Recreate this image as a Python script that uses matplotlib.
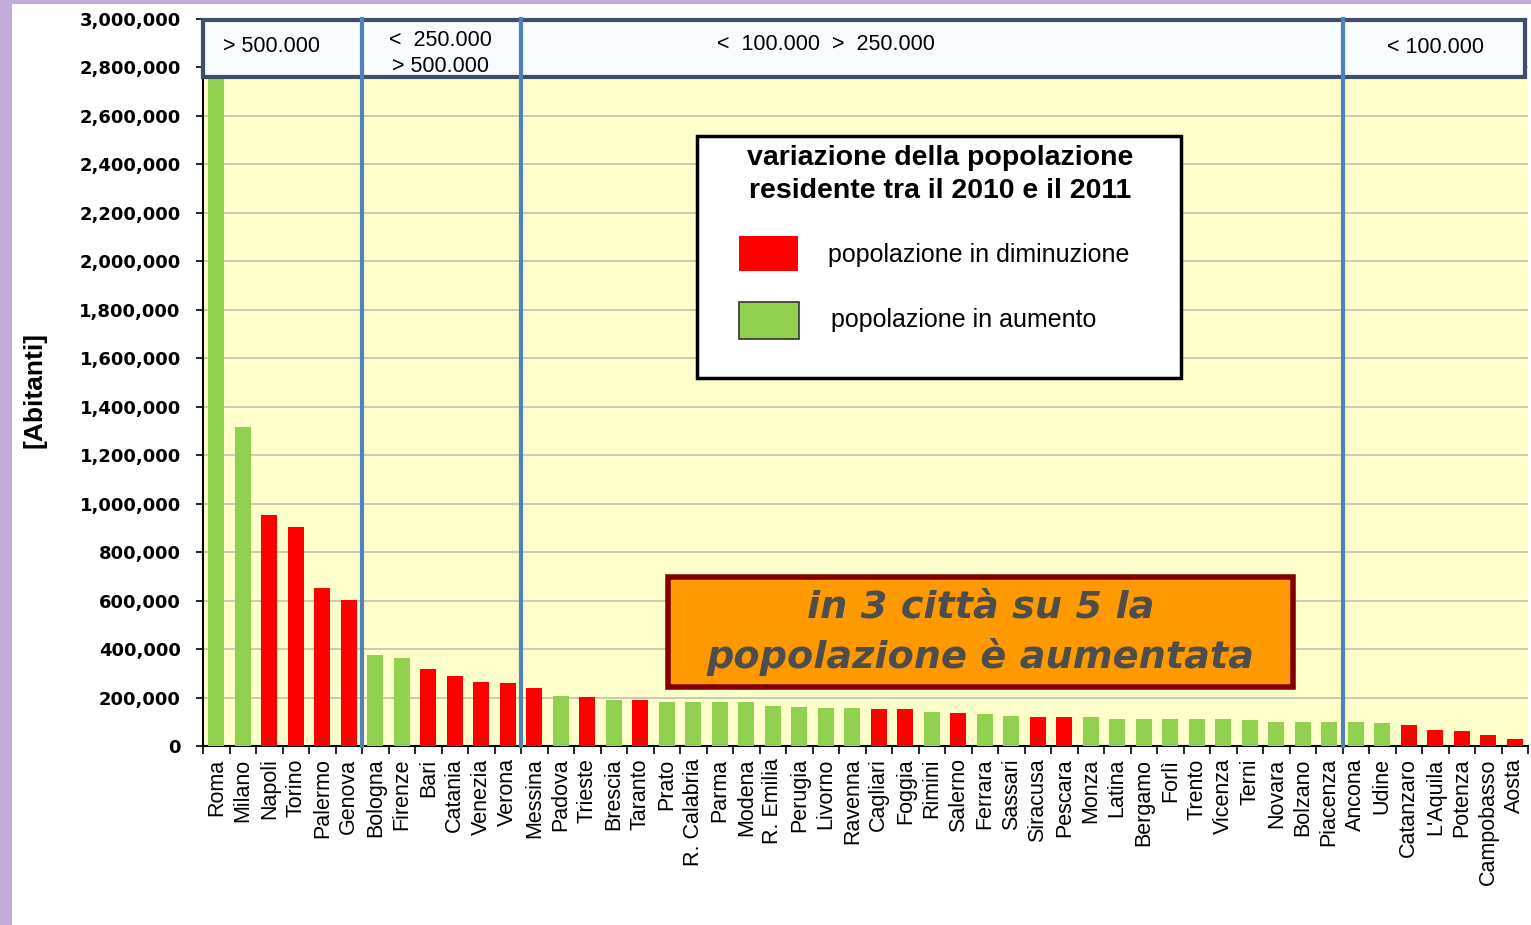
import numpy as np
import matplotlib
matplotlib.use('Agg')
import matplotlib.pyplot as plt
from matplotlib.patches import Rectangle
from matplotlib.ticker import FuncFormatter, MultipleLocator
import matplotlib.transforms as mtransforms

# residents per city (2011)
cities = ['Roma', 'Milano', 'Napoli', 'Torino', 'Palermo', 'Genova', 'Bologna', 'Firenze',
          'Bari', 'Catania', 'Venezia', 'Verona', 'Messina', 'Padova', 'Trieste', 'Brescia',
          'Taranto', 'Prato', 'R. Calabria', 'Parma', 'Modena', 'R. Emilia', 'Perugia',
          'Livorno', 'Ravenna', 'Cagliari', 'Foggia', 'Rimini', 'Salerno', 'Ferrara',
          'Sassari', 'Siracusa', 'Pescara', 'Monza', 'Latina', 'Bergamo', 'Forlì', 'Trento',
          'Vicenza', 'Terni', 'Novara', 'Bolzano', 'Piacenza', 'Ancona', 'Udine', 'Catanzaro',
          "L'Aquila", 'Potenza', 'Campobasso', 'Aosta']
abitanti = [2761000, 1315000, 955000, 905000, 654000, 602000, 374000, 364000,
            317000, 290000, 265000, 260000, 239000, 208000, 202000, 188000,
            188000, 182000, 182000, 182000, 182000, 167000, 162000,
            156000, 156000, 151000, 151000, 140000, 135000, 130000,
            124000, 119000, 119000, 119000, 113000, 113000, 113000, 113000,
            113000, 108000, 98000, 98000, 98000, 98000, 93000, 87000,
            66000, 61000, 46000, 30000]
# 1 = popolazione in aumento, 0 = in diminuzione
aumento = [1, 1, 0, 0, 0, 0, 1, 1, 0, 0, 0, 0, 0, 1, 0, 1, 0, 1, 1, 1, 1, 1, 1, 1, 1,
           0, 0, 1, 0, 1, 1, 0, 0, 1, 1, 1, 1, 1, 1, 1, 1, 1, 1, 1, 1, 0, 0, 0, 0, 0]

# class boundaries and labels of the top header
boundaries = [5.5, 11.5, 42.5]
header_labels = ['> 500.000', '<  250.000\n> 500.000', '<  100.000  >  250.000', '< 100.000']

GREEN = '#92d050'
RED = '#ff0000'
BLUE = '#4f81bd'

fig = plt.figure(figsize=(15.31, 9.25), dpi=100)
fig.patch.set_facecolor('white')
ax = fig.add_axes([203 / 1531, 1 - 746 / 925, 1325 / 1531, 727 / 925])
ax.set_facecolor('#ffffcc')

x = np.arange(len(cities))
colors = [GREEN if a else RED for a in aumento]
ax.bar(x, abitanti, width=0.6, color=colors, zorder=3)

ax.set_xlim(-0.5, len(cities) - 0.5)
ax.set_ylim(0, 3000000)
ax.yaxis.set_major_locator(MultipleLocator(200000))
ax.yaxis.set_major_formatter(FuncFormatter(lambda v, p: f'{int(v):,}'))
ax.grid(axis='y', color='#bcbcac', linewidth=1.1, zorder=1)
ax.set_axisbelow(True)
for lab in ax.get_yticklabels():
    lab.set_fontweight('bold')
    lab.set_fontsize(13)
    lab.set_family('DejaVu Sans')
ax.tick_params(axis='y', length=5, width=1.2, pad=11, direction='out')

# city labels centred under bars, tick marks between bars
ax.set_xticks(x)
ax.set_xticklabels(cities, rotation=90, fontsize=15.5, family='Liberation Sans')
ax.tick_params(axis='x', length=0, pad=9)
ax.set_xticks(np.arange(-0.5, len(cities)), minor=True)
ax.tick_params(axis='x', which='minor', length=6, width=1.2, direction='out')

for s in ['top', 'right']:
    ax.spines[s].set_visible(False)
ax.spines['left'].set_linewidth(1.5)
ax.spines['bottom'].set_linewidth(1.5)

# header box with population classes
trans = mtransforms.blended_transform_factory(ax.transData, ax.transAxes)
ax.add_patch(Rectangle((-0.5, 0.92), len(cities) - 0.1, 0.078, transform=trans,
                       facecolor='#f8fbff', edgecolor='#3d5068', linewidth=3,
                       zorder=5, clip_on=False))
for b in boundaries:
    ax.plot([b, b], [0, 1.0], transform=trans, color=BLUE, linewidth=3,
            zorder=6, clip_on=False)
header_x = [2.1, 8.45, 23.0, 46.0]
header_y = [0.9615, 0.952, 0.9645, 0.9605]
for xc, yc, lab in zip(header_x, header_y, header_labels):
    ax.text(xc, yc, lab, transform=trans, ha='center', va='center',
            fontsize=15.5, family='Liberation Sans', zorder=7, linespacing=1.3)

# legend box
ax.add_patch(Rectangle((0.3728, 0.5062), 0.3653, 0.3329, transform=ax.transAxes,
                       facecolor='white', edgecolor='black', linewidth=2.5, zorder=8))
ax.text(0.556, 0.786, 'variazione della popolazione\nresidente tra il 2010 e il 2011',
        transform=ax.transAxes, ha='center', va='center', fontsize=20.5,
        fontweight='bold', family='Liberation Sans', linespacing=1.38, zorder=9)
ax.add_patch(Rectangle((0.4045, 0.6534), 0.0445, 0.0481, transform=ax.transAxes,
                       facecolor=RED, edgecolor='none', zorder=9))
ax.add_patch(Rectangle((0.4045, 0.5598), 0.0453, 0.0509, transform=ax.transAxes,
                       facecolor=GREEN, edgecolor='#333333', linewidth=1.2, zorder=9))
ax.text(0.4717, 0.6754, 'popolazione in diminuzione', transform=ax.transAxes,
        ha='left', va='center', fontsize=18, family='Liberation Sans', zorder=9)
ax.text(0.474, 0.586, 'popolazione in aumento', transform=ax.transAxes,
        ha='left', va='center', fontsize=18, family='Liberation Sans', zorder=9)

# orange call-out
ax.add_patch(Rectangle((0.351, 0.0812), 0.4716, 0.1513, transform=ax.transAxes,
                       facecolor='#ff9900', edgecolor='#800000', linewidth=4, zorder=8))
ax.text(0.587, 0.191, 'in 3 città su 5 la', transform=ax.transAxes, ha='center',
        va='center', fontsize=27.5, fontweight='bold', fontstyle='italic',
        family='DejaVu Sans', color='#4d4d4d', zorder=9)
ax.text(0.587, 0.1224, 'popolazione è aumentata', transform=ax.transAxes, ha='center',
        va='center', fontsize=27.5, fontweight='bold', fontstyle='italic',
        family='DejaVu Sans', color='#4d4d4d', zorder=9)

fig.text(35 / 1531, 1 - 390 / 925, '[Abitanti]', rotation=90, ha='center', va='center',
         fontsize=19, fontweight='bold', family='Liberation Sans')

# purple slide border
fig.patches.append(Rectangle((0, 0), 12 / 1531, 1, transform=fig.transFigure,
                             facecolor='#c5addb', edgecolor='none', zorder=0))
fig.patches.append(Rectangle((0, 1 - 4 / 925), 1, 4 / 925, transform=fig.transFigure,
                             facecolor='#c5addb', edgecolor='none', zorder=0))

fig.savefig('out.png', dpi=100)
